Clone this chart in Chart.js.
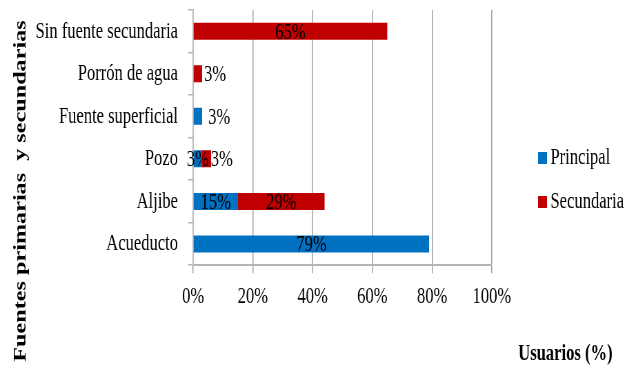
<!DOCTYPE html>
<html>
<head>
<meta charset="utf-8">
<script src="https://cdn.jsdelivr.net/npm/chart.js@4/dist/chart.umd.min.js"></script>
<style>
  html, body { margin: 0; padding: 0; background: #fff; overflow: hidden; }
  /* the original picture is squeezed horizontally, so draw wide and squeeze */
  #wrap { width: 909px; height: 366px; transform: scaleX(0.6898); transform-origin: 0 0; }
</style>
</head>
<body>
<div id="wrap"><canvas id="fuentesChart" width="909" height="366"></canvas></div>
<script>
// Categories, top to bottom
const categories = ['Sin fuente secundaria', 'Porrón de agua', 'Fuente superficial', 'Pozo', 'Aljibe', 'Acueducto'];
// Percent of users per source
const principal = [0, 0, 3, 3, 15, 79];
const secundaria = [65, 3, 0, 3, 29, 0];
const xTicks = [0, 20, 40, 60, 80, 100];

// small sideways nudges for the data labels (styling only)
const nudgePrincipal = [0, 0, 31, 0, 0, 0];
const nudgeSecundaria = [0, 25, 0, 22, 0, 0];

const serif = "'Liberation Serif', 'Times New Roman', serif";
const yTitle = 'Fuentes primarias  y secundarias';

// Draws value labels, axis titles and the legend
const extrasPlugin = {
    id: 'extras',
    afterDatasetsDraw(chart) {
        const ctx = chart.ctx;
        const nudges = [nudgePrincipal, nudgeSecundaria];
        ctx.save();
        ctx.font = '24px ' + serif;
        ctx.fillStyle = '#000';
        ctx.textAlign = 'center';
        ctx.textBaseline = 'middle';
        chart.data.datasets.forEach((ds, i) => {
            const meta = chart.getDatasetMeta(i);
            meta.data.forEach((bar, j) => {
                const v = ds.data[j];
                if (!v) return;
                const cx = (bar.x + bar.base) / 2 + nudges[i][j];
                ctx.fillText(v + '%', cx, bar.y + 1);
            });
        });
        ctx.restore();
    },
    afterDraw(chart) {
        const ctx = chart.ctx;
        ctx.save();
        // y axis title, sized so it runs the same length as in the original
        ctx.font = 'bold 24px ' + serif;
        let size = 24 * 342 / ctx.measureText(yTitle).width;
        ctx.font = 'bold ' + size.toFixed(1) + 'px ' + serif;
        ctx.fillStyle = '#000';
        ctx.translate(37, 191);
        ctx.rotate(-Math.PI / 2);
        ctx.textAlign = 'center';
        ctx.textBaseline = 'alphabetic';
        ctx.fillText(yTitle, 0, 0);
        ctx.restore();

        ctx.save();
        // x axis title
        ctx.font = 'bold 24px ' + serif;
        ctx.fillStyle = '#000';
        ctx.textAlign = 'right';
        ctx.textBaseline = 'alphabetic';
        ctx.fillText('Usuarios (%)', 888, 360);

        // legend
        ctx.font = '24px ' + serif;
        ctx.textAlign = 'left';
        ctx.textBaseline = 'middle';
        chart.data.datasets.forEach((ds, i) => {
            const cy = 158 + i * 44;
            ctx.fillStyle = ds.backgroundColor;
            ctx.fillRect(780, cy - 6, 13, 12);
            ctx.fillStyle = '#000';
            ctx.fillText(ds.label, 798, cy);
        });
        ctx.restore();
    }
};

const ctx = document.getElementById('fuentesChart').getContext('2d');
new Chart(ctx, {
    type: 'bar',
    data: {
        labels: categories,
        datasets: [
            {
                label: 'Principal',
                data: principal,
                backgroundColor: '#0070C0',
                barPercentage: 0.4,
                categoryPercentage: 1
            },
            {
                label: 'Secundaria',
                data: secundaria,
                backgroundColor: '#C00000',
                barPercentage: 0.4,
                categoryPercentage: 1
            }
        ]
    },
    options: {
        indexAxis: 'y',
        responsive: false,
        animation: false,
        devicePixelRatio: 1,
        layout: { padding: { left: 40, right: 196, top: 10, bottom: 46 } },
        plugins: {
            legend: { display: false },
            tooltip: { enabled: false }
        },
        scales: {
            x: {
                stacked: true,
                min: 0,
                max: 100,
                afterBuildTicks: scale => { scale.ticks = xTicks.map(v => ({ value: v })); },
                ticks: {
                    callback: v => v + '%',
                    color: '#000',
                    font: { family: serif, size: 24 },
                    padding: 9,
                    maxRotation: 0
                },
                grid: { color: '#a0a0a0', lineWidth: 1.5, tickLength: 8 },
                border: { color: '#b4b4b4', width: 2 }
            },
            y: {
                stacked: true,
                ticks: {
                    color: '#000',
                    font: { family: serif, size: 24 },
                    padding: 15
                },
                grid: { drawOnChartArea: false, tickLength: 7, color: '#b4b4b4', lineWidth: 1.5 },
                border: { color: '#bdbdbd', width: 2 },
                afterFit: scale => {
                    scale.width = 240;
                    scale.paddingTop = 0;
                    scale.paddingBottom = 0;
                }
            }
        }
    },
    plugins: [extrasPlugin]
});
</script>
</body>
</html>
